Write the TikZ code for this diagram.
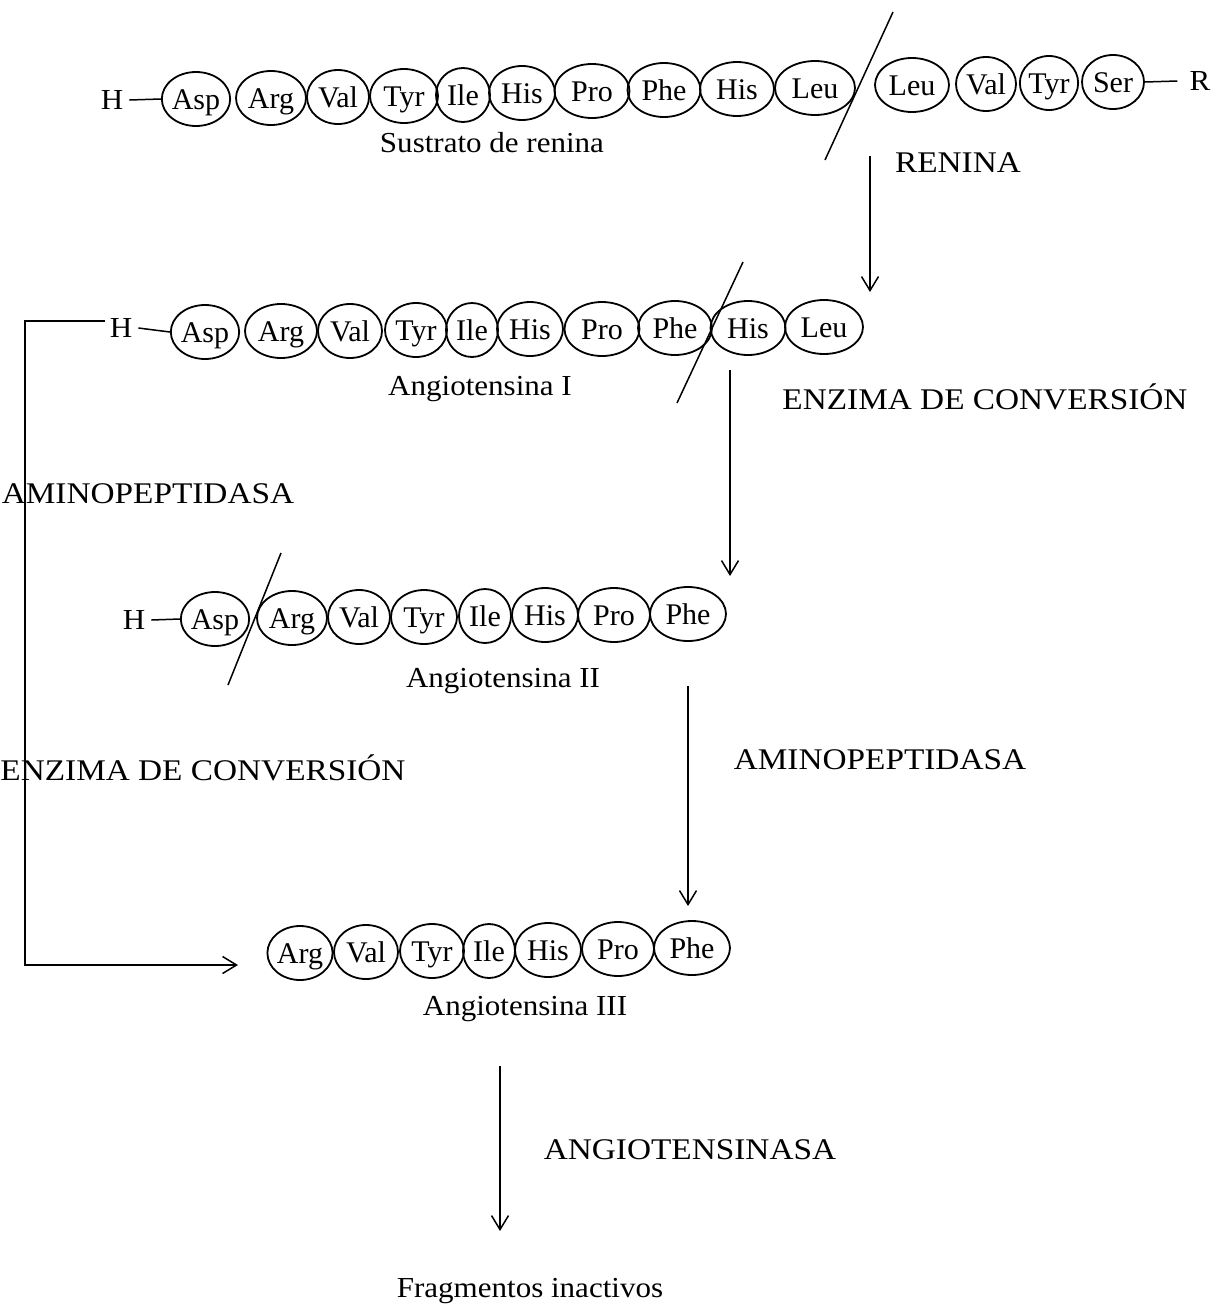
\documentclass[tikz,border=0pt]{standalone}
\usepackage{fontspec}
\setmainfont{Liberation Serif}
\newfontfamily\capsfnt[FakeStretch=1.11]{Liberation Serif}
\newfontfamily\lblfnt[FakeStretch=1.07]{Liberation Serif}
\usetikzlibrary{shapes.geometric,arrows.meta}
\begin{document}
\begin{tikzpicture}[x=1pt,y=-1pt,
  pep/.style={ellipse,draw,line width=1.8pt,inner sep=0pt,minimum height=54pt,
    text height=21pt,text depth=1pt,font=\fontsize{30}{34}\selectfont},
  lbl/.style={inner sep=0pt,font=\lblfnt\fontsize{29}{33}\selectfont},
  caps/.style={inner sep=0pt,font=\capsfnt\fontsize{30}{34}\selectfont},
  ln/.style={line width=1.5pt},
  arr/.style={line width=1.5pt,-{Straight Barb[length=14pt,width=17pt,line width=1.5pt]}}]
\useasboundingbox (0,0) rectangle (1229,1309);
% Row 1
\node[lbl] (h1) at (112,100) {H};
\node[pep,minimum width=67] (a1) at (196,99) {Asp};
\node[pep,minimum width=70] (a2) at (271,98) {Arg};
\node[pep,minimum width=62] (a3) at (338,97) {Val};
\node[pep,minimum width=68] (a4) at (404,96) {Tyr};
\node[pep,minimum width=54] (a5) at (463,95) {Ile};
\node[pep,minimum width=66] (a6) at (522,93) {His};
\node[pep,minimum width=75] (a7) at (592,91) {Pro};
\node[pep,minimum width=73] (a8) at (664,90) {Phe};
\node[pep,minimum width=74] (a9) at (737,89) {His};
\node[pep,minimum width=80] (a10) at (815,88) {Leu};
\node[pep,minimum width=74] (a11) at (912,85) {Leu};
\node[pep,minimum width=60] (a12) at (986,84) {Val};
\node[pep,minimum width=58] (a13) at (1049,83) {Tyr};
\node[pep,minimum width=62] (a14) at (1113,82) {Ser};
\node[lbl] (r1) at (1200,81) {R};
\draw[ln] ([xshift=6pt]h1.east) -- (a1.west);
\draw[ln] (a14.east) -- ([xshift=-12pt]r1.west);
\coordinate (s1a) at (825,160);
\coordinate (s1b) at (893,12);
\draw[ln] (s1a) -- (s1b);
\node[lbl] (t1) at (492,143) {Sustrato de renina};
\node[caps] (renina) at (958,163) {RENINA};
\coordinate (ar1s) at (870,156);
\coordinate (ar1e) at (870,292);
\draw[arr] (ar1s) -- (ar1e);
% Row 2
\node[lbl] (h2) at (121,328) {H};
\node[pep,minimum width=66] (b1) at (205,332) {Asp};
\node[pep,minimum width=72] (b2) at (281,331) {Arg};
\node[pep,minimum width=64] (b3) at (350,331) {Val};
\node[pep,minimum width=62] (b4) at (416,330) {Tyr};
\node[pep,minimum width=52] (b5) at (472,330) {Ile};
\node[pep,minimum width=66] (b6) at (530,329) {His};
\node[pep,minimum width=75] (b7) at (602,329) {Pro};
\node[pep,minimum width=74] (b8) at (675,328) {Phe};
\node[pep,minimum width=75] (b9) at (748,328) {His};
\node[pep,minimum width=78] (b10) at (824,327) {Leu};
\draw[ln] ([xshift=6pt]h2.east) -- (b1.west);
\coordinate (s2a) at (677,403);
\coordinate (s2b) at (743,262);
\draw[ln] (s2a) -- (s2b);
\node[lbl] (t2) at (480,389) {Angiotensina I};
\node[caps] (ec1) at (985,397) {ENZIMA DE CONVERSIÓN};
\coordinate (ar2s) at (730,370);
\coordinate (ar2e) at (730,576);
\draw[arr] (ar2s) -- (ar2e);
% left bracket
\coordinate (lb0) at (105,321);
\coordinate (lb1) at (25,321);
\node[caps] (ap1) at (148,494) {AMINOPEPTIDASA};
\node[caps] (ec2) at (203,768) {ENZIMA DE CONVERSIÓN};
\coordinate (lb4) at (25,965);
\coordinate (lb5) at (238,965);
\draw[ln] (lb0) -- (lb1) -- ([yshift=-10pt]lb1 |- ap1.north);
\draw[ln] ([yshift=12pt]lb1 |- ap1.south) -- ([yshift=-14pt]lb1 |- ec2.north);
\draw[arr] ([yshift=16pt]lb1 |- ec2.south) -- (lb4) -- (lb5);
% Row 3
\node[lbl] (h3) at (134,620) {H};
\node[pep,minimum width=66] (c1) at (215,619) {Asp};
\node[pep,minimum width=70] (c2) at (292,618) {Arg};
\node[pep,minimum width=62] (c3) at (359,617) {Val};
\node[pep,minimum width=66] (c4) at (424,617) {Tyr};
\node[pep,minimum width=52] (c5) at (485,616) {Ile};
\node[pep,minimum width=66] (c6) at (545,615) {His};
\node[pep,minimum width=72] (c7) at (614,615) {Pro};
\node[pep,minimum width=76] (c8) at (688,614) {Phe};
\draw[ln] ([xshift=6pt]h3.east) -- (c1.west);
\coordinate (s3a) at (228,685);
\coordinate (s3b) at (281,553);
\draw[ln] (s3a) -- (s3b);
\node[lbl] (t3) at (503,681) {Angiotensina II};
\node[caps] (ap2) at (880,760) {AMINOPEPTIDASA};
\coordinate (ar3s) at (688,686);
\coordinate (ar3e) at (688,906);
\draw[arr] (ar3s) -- (ar3e);
% Row 4
\node[pep,minimum width=62] (d1) at (300,953) {Arg};
\node[pep,minimum width=64] (d2) at (366,952) {Val};
\node[pep,minimum width=64] (d3) at (432,951) {Tyr};
\node[pep,minimum width=52] (d4) at (489,951) {Ile};
\node[pep,minimum width=66] (d5) at (548,950) {His};
\node[pep,minimum width=72] (d6) at (618,949) {Pro};
\node[pep,minimum width=76] (d7) at (692,948) {Phe};
\node[lbl] (t4) at (525,1009) {Angiotensina III};
\coordinate (ar4s) at (500,1066);
\coordinate (ar4e) at (500,1231);
\draw[arr] (ar4s) -- (ar4e);
\node[caps] (ang) at (690,1150) {ANGIOTENSINASA};
\node[lbl] (frag) at (530,1291) {Fragmentos inactivos};
\end{tikzpicture}
\end{document}
